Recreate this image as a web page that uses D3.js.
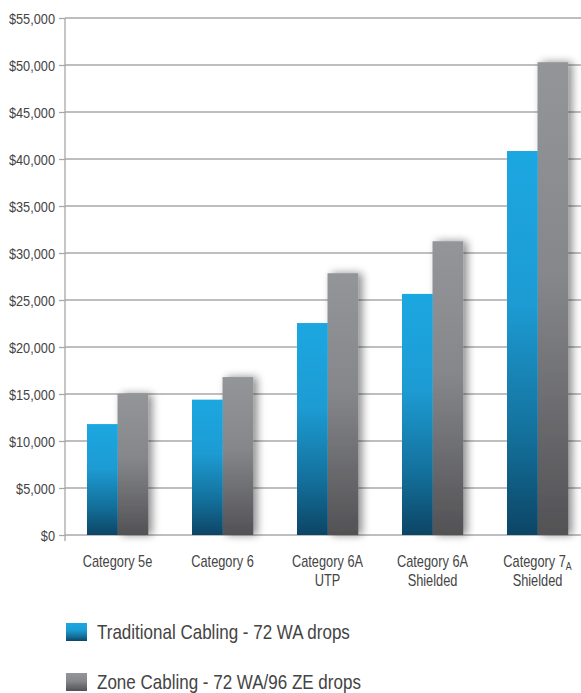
<!DOCTYPE html>
<html><head><meta charset="utf-8">
<script src="https://cdn.jsdelivr.net/npm/d3@7"></script>
<style>
body{margin:0;background:#fff;}
text{font-family:"Liberation Sans",Arial,sans-serif;}
</style></head>
<body><svg id="c" width="581" height="693"></svg>
<script>
const categories = ["Category 5e","Category 6","Category 6A|UTP","Category 6A|Shielded","Category 7A|Shielded"];
const traditional = [11800, 14400, 22550, 25650, 40850];
const zone = [15000, 16800, 27850, 31250, 50300];
const seriesNames = ["Traditional Cabling - 72 WA drops","Zone Cabling - 72 WA/96 ZE drops"];
const yTicks = [0,5000,10000,15000,20000,25000,30000,35000,40000,45000,50000,55000];

const svg = d3.select("#c");
const defs = svg.append("defs");
const gb = defs.append("linearGradient").attr("id","gBlue").attr("x1",0).attr("y1",0).attr("x2",0).attr("y2",1);
gb.append("stop").attr("offset","0%").attr("stop-color","#1ca7e1");
gb.append("stop").attr("offset","40%").attr("stop-color","#1d9bd3");
gb.append("stop").attr("offset","75%").attr("stop-color","#136f9a");
gb.append("stop").attr("offset","100%").attr("stop-color","#0c4565");
const gg = defs.append("linearGradient").attr("id","gGray").attr("x1",0).attr("y1",0).attr("x2",0).attr("y2",1);
gg.append("stop").attr("offset","0%").attr("stop-color","#939599");
gg.append("stop").attr("offset","45%").attr("stop-color","#86878b");
gg.append("stop").attr("offset","100%").attr("stop-color","#525255");
const f = defs.append("filter").attr("id","sh").attr("x","-50%").attr("y","-20%").attr("width","200%").attr("height","140%");
f.append("feGaussianBlur").attr("in","SourceAlpha").attr("stdDeviation",4).attr("result","b");
f.append("feOffset").attr("in","b").attr("dx",4).attr("dy",0).attr("result","o");
f.append("feComponentTransfer").attr("in","o").attr("result","o2").append("feFuncA").attr("type","linear").attr("slope",0.45);
const fm = f.append("feMerge"); fm.append("feMergeNode").attr("in","o2"); fm.append("feMergeNode").attr("in","SourceGraphic");

const x0 = 65, yTop = 18, yBot = 535;
const y = d3.scaleLinear().domain([0,55000]).range([yBot,yTop]);
const x = d3.scaleBand().domain(categories).range([x0, x0+525]).paddingInner(0).paddingOuter(0);
const xs = d3.scaleBand().domain([0,1]).range([0,61]);

// gridlines
svg.append("g").selectAll("line").data(yTicks).join("line")
  .attr("x1",x0).attr("x2",581).attr("y1",d=>y(d)).attr("y2",d=>y(d))
  .attr("stroke","#a7a8aa").attr("stroke-width",1.3);

// y axis
const AS = 0.85;
const ax = d3.axisLeft(y).tickValues(yTicks).tickSize(6).tickPadding(3).tickFormat(d=>"$"+d3.format(",")(d));
const ag = svg.append("g").attr("transform",`translate(${x0},0)`).call(ax);
ag.attr("font-family",null);
ag.select(".domain").attr("d",`M0,${yTop}V${yBot+6}`).attr("stroke","#a7a8aa").attr("stroke-width",1.3);
ag.selectAll(".tick line").attr("stroke","#a7a8aa").attr("stroke-width",1.3);
ag.selectAll(".tick text").attr("fill","#444").attr("font-size",15).attr("dy","0.36em")
  .attr("x",-10/AS).attr("transform",`scale(${AS},1)`)
  .style("font-family",'"Liberation Sans",Arial,sans-serif');

// bars
const data = categories.map((c,i)=>({c, v:[traditional[i], zone[i]]}));
const groups = svg.append("g").selectAll("g").data(data).join("g")
  .attr("transform",d=>`translate(${x(d.c)+x.bandwidth()/2-30.5},0)`);
groups.selectAll("rect").data(d=>d.v.map((v,k)=>({v,k}))).join("rect")
  .attr("x",d=>xs(d.k)).attr("width",xs.bandwidth()+0.3)
  .attr("y",d=>y(d.v)).attr("height",d=>yBot-y(d.v))
  .attr("fill",d=>d.k===0?"url(#gBlue)":"url(#gGray)")
  .attr("filter",d=>d.k===1?"url(#sh)":null);
groups.each(function(){ d3.select(this).selectAll("rect").filter(d=>d.k===0).raise(); });

// category labels
const CS = 0.8;
const cl = svg.append("g").selectAll("g").data(categories).join("g")
  .attr("transform",d=>`translate(${x(d)+x.bandwidth()/2},567) scale(${CS},1)`);
cl.each(function(d){
  const parts = d.split("|"); const g = d3.select(this);
  parts.forEach((p,i)=>{
    const t = g.append("text").attr("x",0).attr("y",i*19).attr("text-anchor","middle")
      .attr("fill","#444").attr("font-size",16);
    if(p==="Category 7A"){ t.text("Category 7"); t.append("tspan").attr("font-size",11).attr("dy","0.3em").text("A"); }
    else t.text(p);
  });
});

// legend
const LS = 0.81;
const leg = svg.append("g").selectAll("g").data(seriesNames).join("g")
  .attr("transform",(d,i)=>`translate(66,${623+i*50})`);
leg.append("rect").attr("width",21).attr("height",18).attr("fill",(d,i)=>i===0?"url(#gBlue)":"url(#gGray)");
leg.append("text").attr("transform",`translate(31,15.5) scale(${LS},1)`).attr("fill","#444").attr("font-size",21).text(d=>d);
</script></body></html>
